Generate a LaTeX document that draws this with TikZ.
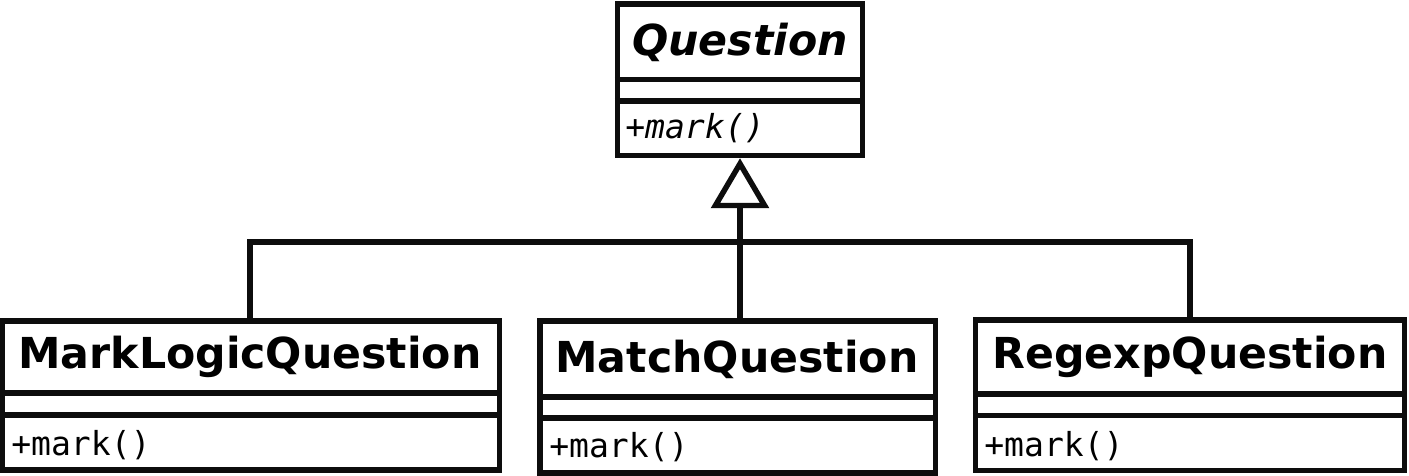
\documentclass[tikz,border=0pt]{standalone}
\usepackage{fontspec}
\setsansfont{DejaVu Sans}
\setmonofont{DejaVu Sans Mono}
\usetikzlibrary{arrows.meta}
\tikzset{
  classbox/.style={draw=black!95, line width=4.1pt, rectangle, inner sep=0pt, fill=white},
  sepline/.style={draw=black!95, line width=4.3pt},
  cname/.style={anchor=base, inner sep=0pt, font=\sffamily\bfseries\fontsize{32}{36}\selectfont, text=black},
  cnameabs/.style={cname, font=\sffamily\bfseries\itshape\fontsize{32}{36}\selectfont},
  cop/.style={anchor=base west, inner sep=0pt, font=\ttfamily\fontsize{24.8}{28}\selectfont, text=black},
  copabs/.style={cop, font=\ttfamily\itshape\fontsize{24.8}{28}\selectfont},
  conn/.style={draw=black!95, line width=4.1pt},
  inherit/.style={conn, -{Triangle[open, length=37.5pt, width=43pt]}}
}
\begin{document}
\begin{tikzpicture}[x=0.75pt, y=-0.75pt]
\useasboundingbox[fill=white] (0,0) rectangle (1409,475);
% classes
\node[classbox, minimum width=183.75pt, minimum height=113.625pt] (q) at (740,79.75) {};
\node[classbox, minimum width=372.75pt, minimum height=111.75pt] (mlq) at (251,395.5) {};
\node[classbox, minimum width=296.625pt, minimum height=114pt] (mq) at (737.75,397) {};
\node[classbox, minimum width=321.75pt, minimum height=112.875pt] (rq) at (1190,395.25) {};
% separators
\draw[sepline] (q.west |- 0,79.5) -- (q.east |- 0,79.5);
\draw[sepline] (q.west |- 0,101) -- (q.east |- 0,101);
\draw[sepline] (mlq.west |- 0,393) -- (mlq.east |- 0,393);
\draw[sepline] (mlq.west |- 0,415) -- (mlq.east |- 0,415);
\draw[sepline] (mq.west |- 0,397) -- (mq.east |- 0,397);
\draw[sepline] (mq.west |- 0,418) -- (mq.east |- 0,418);
\draw[sepline] (rq.west |- 0,394) -- (rq.east |- 0,394);
\draw[sepline] (rq.west |- 0,415.5) -- (rq.east |- 0,415.5);
% texts
\node[cnameabs] (qn) at (740,55) {Question};
\node[copabs] (qm) at (625,138) {+mark()};
\node[cname] (mlqn) at (250,368) {MarkLogicQuestion};
\node[cop] (mlqm) at (11,455) {+mark()};
\node[cname] (mqn) at (737,372) {MatchQuestion};
\node[cop] (mqm) at (549,457) {+mark()};
\node[cname] (rqn) at (1190,368) {RegexpQuestion};
\node[cop] (rqm) at (984,456) {+mark()};
% connectors
\coordinate (bus) at (740,242);
\draw[conn] (mlq.north -| 250,0) |- (bus) -| (rq.north);
\draw[inherit] (q.south |- mq.north) -- (q.south);
\end{tikzpicture}
\end{document}
